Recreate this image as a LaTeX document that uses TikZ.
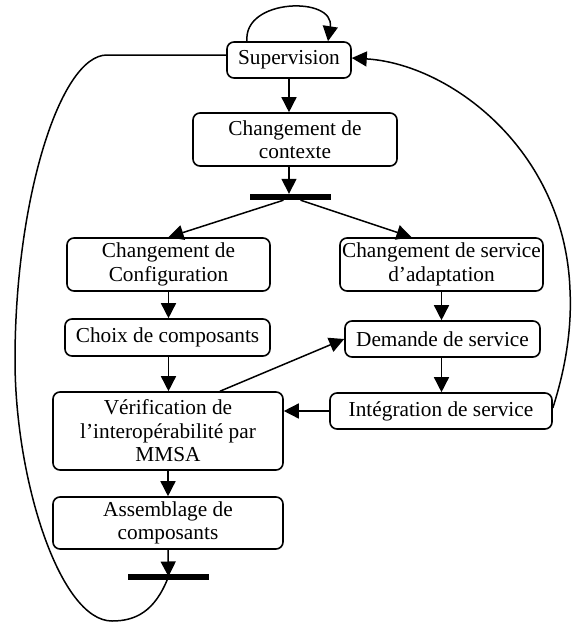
\documentclass[tikz,border=0pt]{standalone}
\usepackage{fontspec}
\setmainfont{Liberation Serif}
\usetikzlibrary{arrows.meta}
\begin{document}
\begin{tikzpicture}[x=1pt,y=-1pt,
  box/.style={draw, rounded corners=7pt, line width=1.6pt, fill=white, align=center,
    inner sep=0pt, font=\fontsize{21.3}{23.5}\selectfont},
  syncbar/.style={fill=black, draw=none, inner sep=0pt},
  arr/.style={line width=1.5pt, -{Triangle[length=15pt,width=15pt]}},
  ln/.style={line width=1.5pt}]
\fill[white] (0,0) rectangle (573,622);
\useasboundingbox (0,0) rectangle (573,622);

\node[box, minimum width=124pt, minimum height=36pt] (sup) at (289,60) {Supervision};
\node[box, minimum width=204pt, minimum height=53pt] (ctx) at (295,139.5) {Changement de\\contexte};
\node[syncbar, minimum width=81pt, minimum height=6pt] (bar1) at (290.5,197) {};
\node[box, minimum width=203pt, minimum height=53pt] (cfg) at (168.5,264.5) {Changement de\\Configuration};
\node[box, minimum width=203pt, minimum height=53pt] (srv) at (441.5,264.5) {Changement de service\\d’adaptation};
\node[box, minimum width=205pt, minimum height=37pt] (choix) at (167.5,337.5) {Choix de composants};
\node[box, minimum width=195pt, minimum height=36pt] (dem) at (442.5,339) {Demande de service};
\node[box, minimum width=230pt, minimum height=78pt] (ver) at (168,431) {Vérification de\\l’interopérabilité par\\MMSA};
\node[box, minimum width=222pt, minimum height=36pt] (integ) at (441,411) {Intégration de service};
\node[box, minimum width=230pt, minimum height=52pt] (asm) at (168,523) {Assemblage de\\composants};
\node[syncbar, minimum width=81pt, minimum height=6pt] (bar2) at (168.5,576.5) {};

\draw[arr] (sup.south) -- (sup.south |- ctx.north);
\draw[arr] (sup.south |- ctx.south) -- (sup.south |- bar1.north);
\draw[arr] ([xshift=-7pt]bar1.south) -- (cfg.north);
\draw[arr] ([xshift=10pt]bar1.south) -- ([xshift=-30pt]srv.north);
\draw[arr] (cfg.south) -- (cfg.south |- choix.north);
\draw[arr] (srv.south) -- (srv.south |- dem.north);
\draw[arr] (cfg.south |- choix.south) -- (cfg.south |- ver.north);
\draw[arr] ([xshift=52pt]ver.north) -- (dem.west);
\draw[arr] (srv.south |- dem.south) -- (srv.south |- integ.north);
\draw[arr] (integ.west) -- (integ.west -| ver.east);
\draw[arr] (ver.south) -- (asm.north);
\draw[arr] (asm.south) -- (bar2.center);

\draw[arr] ([xshift=-42pt]sup.north) .. controls (243,-2) and (335,-4) .. ([xshift=39pt]sup.north);

\draw[ln] (bar2.center) .. controls (155,612) and (135,621) .. (112,621)
  .. controls (60,621) and (15,480) .. (15,360)
  .. controls (15,200) and (60,55) .. (107,55) -- ([yshift=5pt]sup.west);

\draw[arr] ([yshift=3pt]integ.east) .. controls (565,370) and (572,330) .. (570,290)
  .. controls (565,150) and (450,64) .. ([yshift=2pt]sup.east);
\end{tikzpicture}
\end{document}
